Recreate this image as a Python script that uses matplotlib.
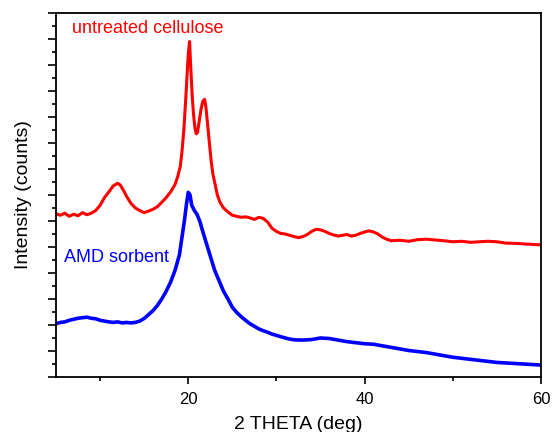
import matplotlib
matplotlib.use("Agg")
import matplotlib.pyplot as plt
from matplotlib.ticker import MultipleLocator, NullFormatter

plt.rcParams['font.family'] = ['Liberation Sans', 'DejaVu Sans']

# untreated cellulose (red)
cell_theta = [5.0, 5.5, 6.0, 6.5, 7.0, 7.5, 8.0, 8.5, 9.0, 9.5, 10.0, 10.5,
              11.0, 11.5, 12.0, 12.3, 12.7, 13.0, 13.5, 14.0, 14.5, 15.0,
              15.5, 16.0, 16.5, 17.0, 17.5, 18.0, 18.5, 18.8, 19.1, 19.3,
              19.5, 19.7, 19.85, 20.0, 20.15, 20.3, 20.45, 20.6, 20.75, 20.9,
              21.05, 21.25, 21.45, 21.65, 21.85, 22.0, 22.2, 22.4, 22.6, 22.8,
              23.0, 23.3, 23.6, 24.0, 24.5, 25.0, 25.5, 26.0, 26.5, 27.0,
              27.5, 28.0, 28.5, 29.0, 29.5, 30.0, 30.5, 31.0, 31.5, 32.0,
              32.5, 33.0, 33.5, 34.0, 34.5, 35.0, 35.5, 36.0, 36.5, 37.0,
              37.5, 38.0, 38.5, 39.0, 39.5, 40.0, 40.5, 41.0, 41.5, 42.0,
              42.5, 43.0, 44.0, 45.0, 46.0, 47.0, 48.0, 49.0, 50.0, 51.0,
              52.0, 53.0, 54.0, 55.0, 56.0, 57.0, 58.0, 59.0, 60.0]
cell_counts = [628, 622, 630, 618, 626, 620, 632, 624, 630, 640, 660, 690,
               712, 735, 745, 738, 715, 695, 668, 650, 640, 632,
               638, 645, 655, 672, 690, 712, 740, 770, 810, 870,
               950, 1060, 1150, 1240, 1290, 1180, 1080, 1010, 960, 935,
               940, 985, 1030, 1060, 1068, 1040, 970, 900, 830, 780,
               748, 700, 672, 650, 635, 622, 618, 614, 616, 612,
               606, 614, 610, 596, 572, 560, 552, 550, 545, 540,
               536, 540, 548, 560, 568, 566, 560, 552, 546, 542,
               545, 548, 542, 545, 552, 558, 562, 558, 550, 538,
               530, 524, 526, 522, 528, 530, 527, 524, 520, 522,
               518, 520, 522, 520, 515, 514, 512, 510, 508]

# AMD sorbent (blue)
amd_theta = [5.0, 5.5, 6.0, 6.5, 7.0, 7.5, 8.0, 8.5, 9.0, 9.5, 10.0, 10.5,
             11.0, 11.5, 12.0, 12.5, 13.0, 13.5, 14.0, 14.5, 15.0, 15.5,
             16.0, 16.5, 17.0, 17.5, 18.0, 18.5, 19.0, 19.3, 19.6, 19.8,
             20.0, 20.2, 20.4, 20.7, 21.0, 21.3, 21.6, 22.0, 22.5, 23.0,
             23.5, 24.0, 24.5, 25.0, 25.5, 26.0, 26.5, 27.0, 27.5, 28.0,
             28.5, 29.0, 29.5, 30.0, 30.5, 31.0, 31.5, 32.0, 33.0, 34.0,
             35.0, 36.0, 37.0, 38.0, 39.0, 40.0, 41.0, 42.0, 43.0, 44.0,
             45.0, 46.0, 47.0, 48.0, 49.0, 50.0, 51.0, 52.0, 53.0, 54.0,
             55.0, 56.0, 57.0, 58.0, 59.0, 60.0]
amd_counts = [205, 210, 212, 218, 222, 226, 228, 230, 226, 224, 218, 215,
              212, 210, 212, 208, 210, 208, 210, 215, 225, 240,
              255, 275, 300, 330, 365, 410, 470, 540, 610, 665,
              710, 700, 660, 640, 625, 600, 565, 520, 465, 410,
              370, 330, 300, 268, 248, 232, 218, 205, 195, 185,
              178, 172, 165, 160, 155, 150, 146, 143, 142, 144,
              150, 148, 142, 136, 132, 128, 126, 120, 114, 108,
              102, 98, 94, 88, 82, 76, 72, 68, 64, 60,
              56, 54, 52, 50, 48, 46]

fig = plt.figure(figsize=(5.52, 4.32), dpi=100)
ax = fig.add_axes([0.1014, 0.1273, 0.8786, 0.8427])

ax.plot(cell_theta, cell_counts, color='#ff0000', linewidth=2.2)
ax.plot(amd_theta, amd_counts, color='#0000ff', linewidth=2.6)

ax.text(6.86, 1342, "untreated cellulose", color='#ff0000', fontsize=13,
        va='center', ha='left')
ax.text(5.95, 458, "AMD sorbent", color='#0000ff', fontsize=13,
        va='center', ha='left')

ax.set_xlim(5, 60)
ax.set_ylim(0, 1400)
ax.xaxis.set_major_locator(MultipleLocator(20))
ax.xaxis.set_minor_locator(MultipleLocator(10))
ax.yaxis.set_major_locator(MultipleLocator(100))
ax.yaxis.set_minor_locator(MultipleLocator(50))
ax.yaxis.set_major_formatter(NullFormatter())

ax.tick_params(axis='x', which='major', direction='out', length=5, width=1.2,
               labelsize=12, pad=6)
ax.tick_params(axis='x', which='minor', direction='out', length=3, width=1.2)
ax.tick_params(axis='y', which='major', direction='out', length=6, width=1.2)
ax.tick_params(axis='y', which='minor', direction='out', length=3, width=1.2)

for spine in ax.spines.values():
    spine.set_linewidth(1.3)

ax.set_xlabel("2 THETA (deg)", fontsize=14, labelpad=6)
ax.set_ylabel("Intensity (counts)", fontsize=14, labelpad=8)

fig.savefig("out.png", dpi=100)
